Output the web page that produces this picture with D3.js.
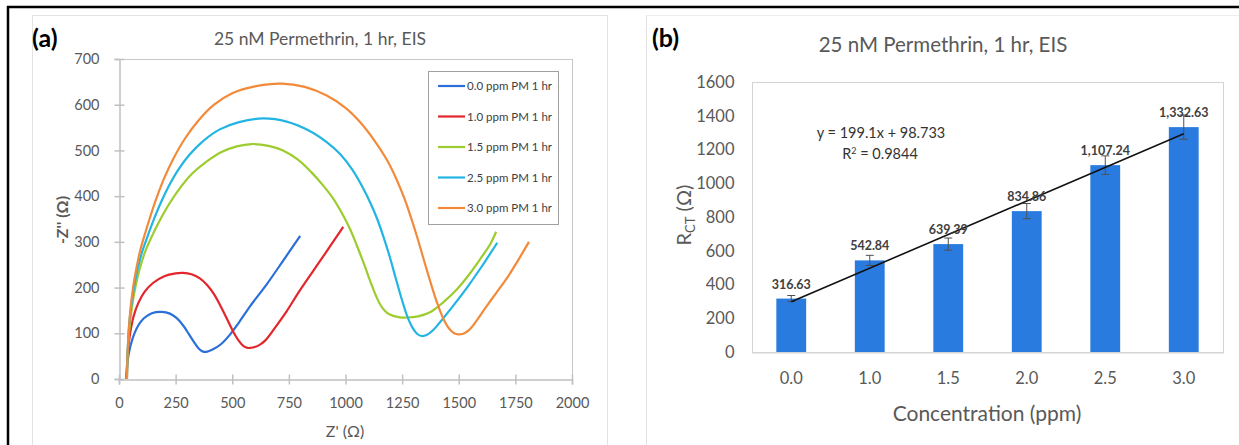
<!DOCTYPE html>
<html><head><meta charset="utf-8">
<script src="https://cdn.jsdelivr.net/npm/d3@7"></script>
<style>
body{margin:0;background:#fff;}
svg text{font-family:Lato,"Open Sans",sans-serif;}
</style></head>
<body><svg id="c" width="1239" height="445"></svg>
<script>
// ---------- Data: panel (a) Nyquist curves [Z', -Z''] ----------
const seriesNames = ["0.0 ppm PM 1 hr","1.0 ppm PM 1 hr","1.5 ppm PM 1 hr","2.5 ppm PM 1 hr","3.0 ppm PM 1 hr"];
const seriesColors = ["#2b6fd8","#e3262c","#9ccc2e","#22b4e2","#f28a3a"];
const curve00 = [[33,0],[35,20],[38,38],[43,55],[52,75],[66,97],[85,117],[110,133],[145,144],[188,147],[225,143],[255,133],[285,116],[310,97],[335,78],[355,65],[371,60],[390,60],[415,65],[450,76],[490,97],[530,124],[580,160],[652,207],[725,259],[800,313]];
const curve10 = [[33,0],[35,28],[38,52],[43,78],[52,108],[65,138],[85,166],[112,190],[150,210],[200,225],[250,231],[283,232],[320,229],[357,220],[390,205],[420,185],[450,158],[478,130],[505,103],[530,83],[550,72],[568,68],[590,69],[615,73],[645,84],[690,113],[740,148],[800,195],[900,267],[990,333]];
const curve15 = [[35,0],[37,40],[41,80],[48,120],[58,160],[72,200],[91,240],[115,278],[145,312],[178,345],[218,380],[265,415],[320,448],[385,475],[455,497],[520,509],[586,514],[660,510],[724,500],[790,480],[850,452],[900,424],[945,395],[985,362],[1020,328],[1050,292],[1080,254],[1110,213],[1138,178],[1162,156],[1185,144],[1211,138],[1240,135],[1270,134.5],[1320,137],[1373,146],[1430,167],[1490,195],[1545,228],[1600,266],[1640,296],[1665,322]];
const curve25 = [[35,0],[37,40],[40,80],[45,120],[54,160],[66,200],[82,240],[102,278],[126,312],[153,348],[184,385],[220,422],[262,458],[310,490],[370,520],[445,546],[530,562],[637,570],[740,563],[840,543],[917,518],[976,492],[1030,458],[1075,420],[1110,385],[1140,350],[1167,312],[1195,268],[1222,220],[1248,175],[1272,138],[1295,113],[1316,99],[1336,94],[1358,96],[1385,106],[1417,124],[1475,160],[1535,199],[1600,245],[1670,298]];
const curve30 = [[35,0],[37,40],[40,80],[45,120],[52,160],[62,200],[76,240],[93,280],[113,315],[138,355],[165,395],[200,440],[240,482],[290,525],[350,565],[420,600],[500,625],[600,640],[718,646],[820,639],[917,620],[1000,593],[1064,562],[1130,520],[1182,480],[1225,437],[1260,395],[1290,352],[1318,308],[1345,262],[1375,212],[1405,166],[1432,132],[1458,110],[1480,100],[1498,97.5],[1520,99],[1545,107],[1575,125],[1620,157],[1665,188],[1712,220],[1760,258],[1810,300]];
const curvesA = [curve00, curve10, curve15, curve25, curve30];
const xTicksA = [0,250,500,750,1000,1250,1500,1750,2000];
const yTicksA = [0,100,200,300,400,500,600,700];

// ---------- Data: panel (b) R_CT bars ----------
const concentrations = ["0.0","1.0","1.5","2.0","2.5","3.0"];
const rctValues = [316.63, 542.84, 639.39, 834.86, 1107.24, 1332.63];
const rctLabels = ["316.63","542.84","639.39","834.86","1,107.24","1,332.63"];
const rctErrors = [18, 30, 36, 45, 55, 72];
const yTicksB = [0,200,400,600,800,1000,1200,1400,1600];
const fitSlope = 199.1, fitIntercept = 98.733;

const svg = d3.select("#c");
const gray = "#595959";

// ---------- frames ----------
svg.append("rect").attr("x",32.5).attr("y",15.5).attr("width",575).attr("height",440).attr("fill","none").attr("stroke","#e3e3e3");
svg.append("line").attr("x1",646.5).attr("x2",646.5).attr("y1",15).attr("y2",445).attr("stroke","#e3e3e3");
svg.append("line").attr("x1",646).attr("x2",1239).attr("y1",15.5).attr("y2",15.5).attr("stroke","#eeeeee");
svg.append("line").attr("x1",7).attr("x2",1239).attr("y1",7).attr("y2",7).attr("stroke","#000").attr("stroke-width",2.5);
svg.append("line").attr("x1",8).attr("x2",8).attr("y1",6).attr("y2",445).attr("stroke","#000").attr("stroke-width",2.5);

// ---------- Panel (a) ----------
const xA = d3.scaleLinear().domain([0,2000]).range([119,572]);
const yA = d3.scaleLinear().domain([0,700]).range([379,59]);
const gA = svg.append("g");
gA.append("line").attr("x1",xA(0)).attr("x2",xA(2000)).attr("y1",yA(700)+0.5).attr("y2",yA(700)+0.5).attr("stroke","#c8c8c8");
gA.append("line").attr("x1",xA(2000)+0.5).attr("x2",xA(2000)+0.5).attr("y1",yA(700)).attr("y2",yA(0)).attr("stroke","#c8c8c8");
const axA = gA.append("g").attr("transform",`translate(0,${yA(0)+0.5})`)
  .call(d3.axisBottom(xA).tickValues(xTicksA).tickFormat(d3.format("d")).tickSize(5).tickPadding(19));
axA.selectAll(".tick line").attr("y1",-5).attr("y2",5);
const ayA = gA.append("g").attr("transform",`translate(${xA(0)+0.5},0)`)
  .call(d3.axisLeft(yA).tickValues(yTicksA).tickFormat(d3.format("d")).tickSize(5).tickPadding(15));
ayA.selectAll(".tick line").attr("x1",-5).attr("x2",5);
[axA,ayA].forEach(a=>{
  a.select(".domain").attr("stroke","#c0c0c0").attr("stroke-width",1.5);
  a.selectAll(".tick line").attr("stroke","#c0c0c0").attr("stroke-width",1.5);
  a.selectAll(".tick text").attr("fill",gray).style("font-size","14.5px");
});
axA.selectAll(".tick text").attr("dy","0.3em");

const lineA = d3.line().x(d=>xA(d[0])).y(d=>yA(d[1])).curve(d3.curveCatmullRom.alpha(0.5));
gA.selectAll("path.series").data(curvesA).join("path").attr("class","series")
  .attr("d",lineA).attr("fill","none").attr("stroke",(d,i)=>seriesColors[i]).attr("stroke-width",2.2);

// legend
const leg = gA.append("g");
leg.append("rect").attr("x",428.5).attr("y",71.5).attr("width",130).attr("height",153).attr("fill","#fff").attr("stroke","#a0a0a0");
seriesNames.forEach((n,i)=>{
  const yy = 86 + i*30.5;
  leg.append("line").attr("x1",438).attr("x2",465).attr("y1",yy).attr("y2",yy).attr("stroke",seriesColors[i]).attr("stroke-width",2.2);
  leg.append("text").attr("x",467).attr("y",yy+4.2).text(n).attr("fill","#404040").style("font-size","11.5px");
});

gA.append("text").attr("x",320).attr("y",45).attr("text-anchor","middle").attr("fill",gray).style("font-size","17.5px").text("25 nM Permethrin, 1 hr, EIS");
gA.append("text").attr("x",32).attr("y",47).attr("fill","#000").style("font-size","25px").style("font-weight","bold").text("(a)");
gA.append("text").attr("x",345).attr("y",437).attr("text-anchor","middle").attr("fill",gray).style("font-size","16px").text("Z' (Ω)");
gA.append("text").attr("transform","translate(68,220) rotate(-90)").attr("text-anchor","middle").attr("fill",gray).style("font-size","16px").style("font-weight","bold").text("-Z'' (Ω)");

// ---------- Panel (b) ----------
const xB = d3.scaleBand().domain(concentrations).range([752,1223]).paddingInner(0.62).paddingOuter(0.31);
const yB = d3.scaleLinear().domain([0,1600]).range([352,82]);
const gB = svg.append("g");
gB.append("rect").attr("x",752.5).attr("y",82.5).attr("width",471).attr("height",270).attr("fill","none").attr("stroke","#d4d4d4");
const ayB = gB.append("g").attr("transform","translate(752.5,0)").call(d3.axisLeft(yB).tickValues(yTicksB).tickFormat(d3.format("d")).tickSize(0).tickPadding(18));
ayB.select(".domain").remove();
ayB.selectAll(".tick text").attr("fill",gray).style("font-size","16.5px");
const axB = gB.append("g").attr("transform","translate(0,352.5)").call(d3.axisBottom(xB).tickSize(0).tickPadding(20));
axB.select(".domain").attr("stroke","#d4d4d4");
axB.selectAll(".tick text").attr("fill",gray).style("font-size","16.5px");

gB.selectAll("rect.bar").data(rctValues).join("rect").attr("class","bar")
  .attr("x",(d,i)=>xB(concentrations[i])).attr("width",xB.bandwidth())
  .attr("y",d=>yB(d)).attr("height",d=>yB(0)-yB(d)).attr("fill","#2a7be0");

// error bars
const eb = gB.append("g").attr("stroke","#505050").attr("stroke-width",1);
rctValues.forEach((v,i)=>{
  const cx = xB(concentrations[i]) + xB.bandwidth()/2;
  const e = rctErrors[i];
  eb.append("line").attr("x1",cx).attr("x2",cx).attr("y1",yB(v+e)).attr("y2",yB(v-e));
  eb.append("line").attr("x1",cx-4).attr("x2",cx+4).attr("y1",yB(v+e)).attr("y2",yB(v+e));
  eb.append("line").attr("x1",cx-4).attr("x2",cx+4).attr("y1",yB(v-e)).attr("y2",yB(v-e));
});

// trendline (Excel category index 1..n)
const n = concentrations.length;
const cx0 = xB(concentrations[0]) + xB.bandwidth()/2, cx1 = xB(concentrations[n-1]) + xB.bandwidth()/2;
gB.append("line").attr("x1",cx0).attr("x2",cx1)
  .attr("y1",yB(fitSlope*1+fitIntercept)).attr("y2",yB(fitSlope*n+fitIntercept))
  .attr("stroke","#111").attr("stroke-width",1.6);

// data labels
gB.selectAll("text.lbl").data(rctValues).join("text").attr("class","lbl")
  .attr("x",(d,i)=>xB(concentrations[i]) + xB.bandwidth()/2).attr("y",d=>yB(d)-10)
  .attr("text-anchor","middle").attr("fill","#404040").style("font-size","12.5px").style("font-weight","bold")
  .text((d,i)=>rctLabels[i]);

gB.append("text").attr("x",881).attr("y",138).attr("text-anchor","middle").attr("fill","#333").style("font-size","14.5px")
  .text(`y = ${fitSlope}x + ${fitIntercept}`);
const r2 = gB.append("text").attr("x",880).attr("y",159).attr("text-anchor","middle").attr("fill","#333").style("font-size","14.5px");
r2.append("tspan").text("R");
r2.append("tspan").attr("dy",-5).style("font-size","9px").text("2");
r2.append("tspan").attr("dy",5).text(" = 0.9844");

gB.append("text").attr("x",943).attr("y",52).attr("text-anchor","middle").attr("fill",gray).style("font-size","20.5px").text("25 nM Permethrin, 1 hr, EIS");
gB.append("text").attr("x",652).attr("y",47).attr("fill","#000").style("font-size","25px").style("font-weight","bold").text("(b)");
gB.append("text").attr("x",987).attr("y",421).attr("text-anchor","middle").attr("fill",gray).style("font-size","21px").text("Concentration (ppm)");
const yl = gB.append("text").attr("transform","translate(691,215) rotate(-90)").attr("text-anchor","middle").attr("fill",gray).style("font-size","20px");
yl.append("tspan").text("R");
yl.append("tspan").attr("dy",4).style("font-size","13px").text("CT");
yl.append("tspan").attr("dy",-4).text(" (Ω)");
</script></body></html>
